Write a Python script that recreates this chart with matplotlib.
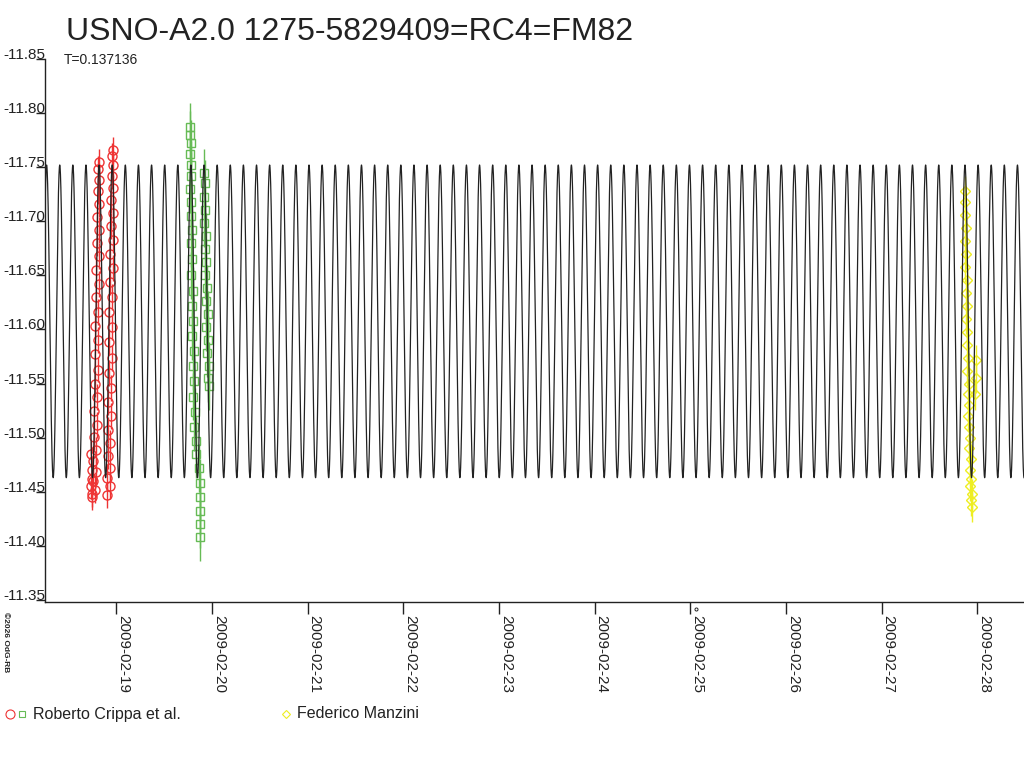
import numpy as np
import matplotlib
matplotlib.use("Agg")
import matplotlib.pyplot as plt

plt.rcParams['font.family'] = ['Liberation Sans', 'DejaVu Sans']

# ---- chart content -------------------------------------------------------
title = "USNO-A2.0 1275-5829409=RC4=FM82"
period_label = "T=0.137136"

# fitted model (days of February 2009, magnitudes)
period = 0.137136
epoch = 27.871        # time of a maximum (most negative value)
mean_mag = -11.6075
amplitude = 0.1445
t_start, t_end = 18.2547, 28.488

tick_days = [19, 20, 21, 22, 23, 24, 25, 26, 27, 28]
tick_labels = ["2009-02-19", "2009-02-20", "2009-02-21", "2009-02-22",
               "2009-02-23", "2009-02-24", "2009-02-25", "2009-02-26",
               "2009-02-27", "2009-02-28"]
y_ticks = [-11.85, -11.80, -11.75, -11.70, -11.65, -11.60,
           -11.55, -11.50, -11.45, -11.40, -11.35]

# Roberto Crippa et al. (circles, night of Feb 18)
crippa_c_t = [18.735, 18.742, 18.738, 18.748, 18.745,
              18.745, 18.780, 18.752, 18.790, 18.760, 18.785, 18.768, 18.795,
              18.770, 18.800, 18.775, 18.805, 18.778, 18.808, 18.782, 18.810,
              18.786, 18.815, 18.790, 18.818, 18.795, 18.820, 18.800, 18.822,
              18.805, 18.818, 18.810, 18.815,
              18.900, 18.930, 18.905, 18.935, 18.910, 18.938, 18.912, 18.942,
              18.918, 18.945, 18.920, 18.950, 18.925, 18.952, 18.928, 18.958,
              18.932, 18.962, 18.938, 18.965, 18.942, 18.968, 18.948, 18.970,
              18.955, 18.962, 18.958, 18.965]
crippa_c_m = [-11.455, -11.470, -11.485, -11.462, -11.448,
              -11.445, -11.452, -11.460, -11.468, -11.478, -11.489, -11.501,
              -11.512, -11.525, -11.538, -11.550, -11.563, -11.577, -11.590,
              -11.603, -11.616, -11.630, -11.642, -11.655, -11.668, -11.680,
              -11.692, -11.704, -11.716, -11.728, -11.738, -11.748, -11.755,
              -11.447, -11.455, -11.463, -11.472, -11.483, -11.495, -11.507,
              -11.520, -11.533, -11.546, -11.560, -11.574, -11.588, -11.602,
              -11.616, -11.630, -11.644, -11.657, -11.670, -11.683, -11.696,
              -11.708, -11.720, -11.731, -11.742, -11.752, -11.760, -11.766]
crippa_c_err = 0.012

# Roberto Crippa et al. (squares, night of Feb 19)
crippa_s_t = [19.775, 19.772, 19.778, 19.770, 19.776, 19.780, 19.774, 19.785,
              19.779, 19.790, 19.782, 19.795, 19.786, 19.800, 19.790, 19.805,
              19.795, 19.810, 19.800, 19.815, 19.806, 19.820, 19.812, 19.828,
              19.830, 19.865, 19.870, 19.872, 19.875, 19.878, 19.880,
              19.915, 19.925, 19.912, 19.930, 19.918, 19.935, 19.922, 19.940,
              19.928, 19.945, 19.935, 19.955, 19.942, 19.960, 19.950, 19.965,
              19.958, 19.970]
crippa_s_m = [-11.787, -11.780, -11.772, -11.762, -11.752, -11.742, -11.730,
              -11.718, -11.705, -11.692, -11.680, -11.665, -11.650, -11.636,
              -11.622, -11.608, -11.594, -11.580, -11.566, -11.552, -11.538,
              -11.524, -11.510, -11.497, -11.485, -11.472, -11.458, -11.445,
              -11.432, -11.420, -11.408,
              -11.745, -11.735, -11.722, -11.710, -11.698, -11.686, -11.674,
              -11.662, -11.650, -11.638, -11.626, -11.614, -11.602, -11.590,
              -11.578, -11.566, -11.555, -11.548]
crippa_s_err = 0.022

# Federico Manzini (diamonds, night of Feb 27)
manzini_t = [27.870, 27.876, 27.868, 27.880, 27.872, 27.884, 27.875, 27.888,
             27.880, 27.892, 27.884, 27.896, 27.888, 27.905, 27.895, 27.915,
             27.900, 27.918, 27.905, 27.912, 27.925, 27.915, 27.930, 27.922,
             27.935, 27.928, 27.940, 27.935, 27.945, 27.985, 27.990, 27.980]
manzini_m = [-11.728, -11.718, -11.706, -11.694, -11.682, -11.670, -11.658,
             -11.646, -11.634, -11.622, -11.610, -11.598, -11.586, -11.574,
             -11.562, -11.550, -11.540, -11.530, -11.520, -11.510, -11.500,
             -11.490, -11.480, -11.470, -11.462, -11.455, -11.448, -11.442,
             -11.436, -11.572, -11.555, -11.540]
manzini_err = 0.014

red = "#ee3333"
green = "#66bb55"
yellow = "#eeee22"
ink = "#222222"

# ---- figure -------------------------------------------------------------
fig = plt.figure(figsize=(10.24, 7.68), dpi=100)
ax = fig.add_axes([45 / 1024, 166 / 768, 979 / 1024, 543 / 768])

t = np.linspace(t_start, t_end, 40000)
model = mean_mag - amplitude * np.cos(2 * np.pi * (t - epoch) / period)

for tt, mm, err, mk, col, ms in [
        (crippa_c_t, crippa_c_m, crippa_c_err, "o", red, 6.5),
        (crippa_s_t, crippa_s_m, crippa_s_err, "s", green, 5.5),
        (manzini_t, manzini_m, manzini_err, "D", yellow, 5)]:
    ax.errorbar(tt, mm, yerr=err, fmt="none", ecolor=col, elinewidth=1,
                capsize=0, zorder=2)
    ax.plot(tt, mm, ls="none", marker=mk, ms=ms, mfc="none", mec=col,
            mew=1.0, zorder=2)

ax.plot(t, model, color=ink, lw=0.9, zorder=3)

ax.set_xlim(t_start, t_end)
ax.set_ylim(-11.3481, -11.85)

for s in ("top", "right"):
    ax.spines[s].set_visible(False)
for s in ("left", "bottom"):
    ax.spines[s].set_color(ink)
    ax.spines[s].set_linewidth(1)

ax.set_yticks(y_ticks)
ax.set_yticklabels([f"{v:.2f}" for v in y_ticks])
ax.tick_params(axis="y", direction="out", length=6.5, width=1, pad=-6.5,
               labelsize=11, colors=ink)
for lab in ax.get_yticklabels():
    lab.set_verticalalignment("baseline")

ax.set_xticks(tick_days)
ax.set_xticklabels(tick_labels, rotation=-90, ha="left", va="top")
ax.tick_params(axis="x", direction="out", length=8.6, width=1, pad=0.5,
               labelsize=11, colors=ink)

# ---- texts and legend in pixel space ------------------------------------
ov = fig.add_axes([0, 0, 1, 1], zorder=5)
ov.set_xlim(0, 1024)
ov.set_ylim(768, 0)
ov.axis("off")

ov.text(66, 40, title, fontsize=23, color=ink, va="baseline", ha="left")
ov.text(64, 64, period_label, fontsize=10, color=ink, va="baseline", ha="left")
ov.text(2, 612, "©2026 OdG-RB", fontsize=6, fontweight="bold", color=ink,
        rotation=-90, ha="left", va="top")
ov.plot(696, 609, marker="o", ms=2.2, mfc="none", mec=ink, mew=0.7)

ov.plot(10, 714, marker="o", ms=6.5, mfc="none", mec=red, mew=0.8)
ov.plot(21.5, 714, marker="s", ms=5, mfc="none", mec=green, mew=0.8)
ov.text(33, 714, "Roberto Crippa et al.", fontsize=11.5, color=ink,
        va="center", ha="left")
ov.plot(285.5, 714, marker="D", ms=4.5, mfc="none", mec=yellow, mew=0.8)
ov.text(297, 714, "Federico Manzini", fontsize=11.5, color=ink,
        va="center", ha="left")

fig.savefig("out.png", dpi=100)
